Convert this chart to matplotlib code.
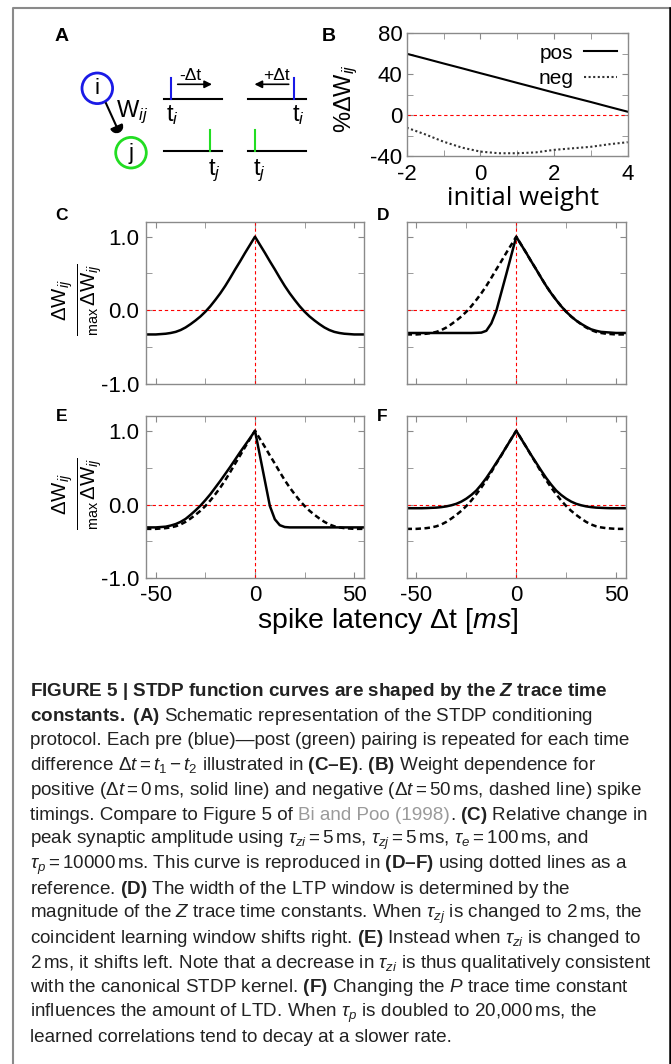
import numpy as np
import matplotlib
matplotlib.use('Agg')
import matplotlib.pyplot as plt
from matplotlib.patches import Circle, Wedge

W, H = 671, 1064
plt.rcParams['font.family'] = ['Liberation Sans', 'DejaVu Sans']
plt.rcParams['mathtext.fontset'] = 'custom'
plt.rcParams['mathtext.rm'] = 'Liberation Sans'
plt.rcParams['mathtext.it'] = 'Liberation Sans:italic'
plt.rcParams['mathtext.bf'] = 'Liberation Sans:bold'
plt.rcParams['mathtext.bfit'] = 'Liberation Sans:italic:bold'
plt.rcParams['axes.unicode_minus'] = False

# -------------------------------
# data
# -------------------------------
# panel B: weight dependence
weight = [-2, -1.5, -1, -0.5, 0, 0.5, 1, 1.5, 2, 2.5, 3, 3.5, 4]
dw_pos = [60, 55.3, 50.5, 45.8, 41, 36.3, 31.5, 26.8, 22, 17.4, 12.8, 8, 3.3]
dw_neg = [-12.3, -18.8, -26, -31.8, -35.7, -37.3, -37.3, -36.5, -34, -32.5, -31, -28.5, -26.5]

# panels C-F: normalised weight change vs spike latency (ms)
lag = np.arange(-55, 55.1, 2.5)
ref_curve = [-0.33, -0.33, -0.33, -0.325, -0.32, -0.31, -0.295, -0.27, -0.235, -0.19, -0.14, -0.085,
             -0.02, 0.055, 0.14, 0.23, 0.33, 0.44, 0.555, 0.665, 0.78, 0.89, 1.0,
             0.89, 0.78, 0.665, 0.555, 0.44, 0.33, 0.23, 0.14, 0.055, -0.02, -0.085,
             -0.14, -0.19, -0.235, -0.27, -0.295, -0.31, -0.32, -0.325, -0.33, -0.33, -0.33]
tzj_short = [-0.31, -0.31, -0.31, -0.31, -0.31, -0.31, -0.31, -0.31, -0.31, -0.31, -0.31, -0.31,
             -0.31, -0.31, -0.308, -0.305, -0.28, -0.18, -0.01, 0.24, 0.49, 0.745, 1.0,
             0.89, 0.78, 0.665, 0.555, 0.44, 0.33, 0.23, 0.14, 0.055, -0.02, -0.085,
             -0.14, -0.185, -0.225, -0.26, -0.28, -0.295, -0.30, -0.305, -0.31, -0.31, -0.31]
tzi_short = [-0.31, -0.31, -0.31, -0.305, -0.30, -0.285, -0.265, -0.235, -0.195, -0.14, -0.08, -0.015,
             0.06, 0.14, 0.23, 0.32, 0.415, 0.51, 0.61, 0.71, 0.805, 0.90, 1.0,
             0.66, 0.32, -0.02, -0.2, -0.28, -0.305, -0.31, -0.31, -0.31, -0.31, -0.31,
             -0.31, -0.31, -0.31, -0.31, -0.31, -0.31, -0.31, -0.31, -0.31, -0.31, -0.31]
tp_long = [-0.05, -0.05, -0.05, -0.05, -0.048, -0.045, -0.042, -0.035, -0.025, -0.01, 0.01, 0.04,
           0.08, 0.13, 0.19, 0.27, 0.36, 0.46, 0.565, 0.67, 0.78, 0.89, 1.0,
           0.89, 0.78, 0.67, 0.565, 0.46, 0.36, 0.27, 0.19, 0.13, 0.08, 0.04,
           0.01, -0.01, -0.025, -0.035, -0.042, -0.045, -0.048, -0.05, -0.05, -0.05, -0.05]

GRAY = '#8a8a8a'
BLUE = '#1a1ae6'
GREEN = '#22dd22'
TXT = '#222222'


def fy(y):
    return 1 - y / H


fig = plt.figure(figsize=(W / 100, H / 100), dpi=100)

# -------------------------------
# background layer: frame + schematic (A), in pixel units
# -------------------------------
ax0 = fig.add_axes([0, 0, 1, 1])
ax0.set_xlim(0, W)
ax0.set_ylim(H, 0)
ax0.set_axis_off()
ax0.plot([12.7, 12.7, 669.5], [H, 7.5, 7.5], color=GRAY, lw=1.5)
ax0.plot([669.5, 669.5], [7.5, H], color='black', lw=1.8)

ax0.add_patch(Circle((97.3, 88.3), 15.3, fill=False, ec=BLUE, lw=2))
ax0.add_patch(Circle((131, 152.7), 15.3, fill=False, ec=GREEN, lw=2))
ax0.text(97.3, 89, 'i', ha='center', va='center', fontsize=16)
ax0.text(131, 153.5, 'j', ha='center', va='center', fontsize=16)
ax0.plot([106, 116.5], [103.3, 126.5], color='black', lw=1.5)
ax0.add_patch(Wedge((116.5, 126.5), 6, -24, 156, color='black'))
ax0.text(116, 116.7, r'W$_{ij}$', ha='left', va='baseline', fontsize=17)

for x0, x1, y, tick, col in [(164.3, 221.7, 98.7, 171.3, BLUE), (247.7, 306, 98.7, 294, BLUE),
                             (164.3, 221.7, 151, 210, GREEN), (247.7, 306, 151, 254.7, GREEN)]:
    ax0.plot([x0, x1], [y, y], color='black', lw=1.5)
    ax0.plot([tick, tick], [y - 21, y], color=col, lw=1.5)
ax0.text(166, 121, r'$\mathrm{t}_i$', ha='left', va='baseline', fontsize=17)
ax0.text(292, 121, r'$\mathrm{t}_i$', ha='left', va='baseline', fontsize=17)
ax0.text(208, 175, r'$\mathrm{t}_j$', ha='left', va='baseline', fontsize=17)
ax0.text(253, 175, r'$\mathrm{t}_j$', ha='left', va='baseline', fontsize=17)
ax0.annotate('', xy=(212, 84.3), xytext=(177.7, 84.3),
             arrowprops=dict(arrowstyle='-|>', color='black', lw=1.2, mutation_scale=11, shrinkA=0, shrinkB=0))
ax0.annotate('', xy=(254.5, 84.3), xytext=(288.7, 84.3),
             arrowprops=dict(arrowstyle='-|>', color='black', lw=1.2, mutation_scale=11, shrinkA=0, shrinkB=0))
ax0.text(190, 80, '-Δt', ha='center', va='baseline', fontsize=12.5)
ax0.text(276, 80, '+Δt', ha='center', va='baseline', fontsize=12.5)

for lab, x, y, s in [('A', 61.7, 36.7, 14), ('B', 329, 36.7, 14), ('C', 62, 215, 12.5),
                     ('D', 383, 215, 12.5), ('E', 62, 416.7, 12.5), ('F', 382, 416.7, 12.5)]:
    ax0.text(x, y, lab, ha='center', va='center', fontsize=s, fontweight='bold')


def add_px_axes(l, t, r, b):
    return fig.add_axes([l / W, 1 - b / H, (r - l) / W, (b - t) / H])


def style_axes(ax):
    for sp in ax.spines.values():
        sp.set_color(GRAY)
        sp.set_linewidth(1)
    ax.tick_params(which='both', direction='in', top=True, right=True, color=GRAY,
                   labelsize=16, pad=5, length=4)


# -------------------------------
# panel B
# -------------------------------
axb = add_px_axes(406.7, 33.3, 627.7, 156)
axb.axhline(0, color='red', lw=0.8, ls=(0, (3, 2.5)))
axb.plot(weight, dw_pos, color='black', lw=1.5, label='pos')
axb.plot(weight, dw_neg, color='#333333', lw=1.5, ls=(0, (1, 1.2)), label='neg')
axb.set_xlim(-2, 4)
axb.set_ylim(-40, 80)
axb.set_xticks([-2, 0, 2, 4])
axb.set_xticks([-1, 1, 3], minor=True)
axb.set_yticks([-40, 0, 40, 80])
axb.set_yticks([-20, 20, 60], minor=True)
style_axes(axb)
axb.tick_params(axis='x', pad=6)
axb.tick_params(axis='y', pad=3)
axb.legend(loc='upper right', frameon=False, markerfirst=False, fontsize=15,
           handlelength=1.6, handletextpad=0.5, borderaxespad=0.1, labelspacing=0.3)
fig.text(523 / W, fy(205), 'initial weight', family='Open Sans', fontsize=18.5,
         ha='center', va='baseline')
fig.text(346 / W, fy(98), r'%Δ$\mathrm{W}_{ij}$', rotation=90, fontsize=17,
         ha='center', va='center')

# -------------------------------
# panels C-F
# -------------------------------
panels = [
    (145.9, 222, 364.1, 383.7, [ref_curve], True, False),
    (406.5, 222, 626.0, 383.7, [tzj_short, ref_curve], False, False),
    (145.9, 416, 364.1, 578.3, [tzi_short, ref_curve], True, True),
    (406.5, 416, 626.0, 578.3, [tp_long, ref_curve], False, True),
]
for l, t, r, b, curves, ylab, xlab in panels:
    ax = add_px_axes(l, t, r, b)
    ax.axhline(0, color='red', lw=0.8, ls=(0, (3, 2.5)))
    ax.axvline(0, color='red', lw=0.8, ls=(0, (3, 2.5)))
    if len(curves) > 1:
        ax.plot(lag, curves[1], color='black', lw=1.8, ls=(0, (2.2, 1.4)))
    ax.plot(lag, curves[0], color='black', lw=1.8)
    ax.set_xlim(-55, 55)
    ax.set_ylim(-1, 1.2)
    ax.set_xticks([-50, 0, 50])
    ax.set_xticks([-25, 25], minor=True)
    ax.set_yticks([-1, 0, 1])
    ax.set_yticks([-0.5, 0.5], minor=True)
    style_axes(ax)
    ax.set_yticklabels(['-1.0', '0.0', '1.0'] if ylab else [])
    ax.set_xticklabels(['-50', '0', '50'] if xlab else [])
    if ylab:
        fig.text(77 / W, fy((t + b) / 2 - 3),
                 r'$\frac{\Delta\mathrm{W}_{ij}}{{}_{\mathrm{max}}\,\Delta\mathrm{W}_{ij}}$',
                 rotation=90, fontsize=21, ha='center', va='center')

fig.text(388 / W, fy(628), r'spike latency Δt [$\mathit{ms}$]', fontsize=20.5,
         ha='center', va='baseline')

# -------------------------------
# caption
# -------------------------------
CAP_X, CAP_Y0, CAP_DY = 30, 696, 24.7
caption = [
    r'FIGURE 5 | STDP function curves are shaped by the $\mathbfit{Z}$ trace time',
    r'$\mathbf{constants.\ (A)}$ Schematic representation of the STDP conditioning',
    r'protocol. Each pre (blue)—post (green) pairing is repeated for each time',
    r'difference $\Delta t = t_1 - t_2$ illustrated in $\mathbf{(C–E)}$. $\mathbf{(B)}$ Weight dependence for',
    r'positive ($\Delta t = 0\,\mathrm{ms}$, solid line) and negative ($\Delta t = 50\,\mathrm{ms}$, dashed line) spike',
    None,
    r'peak synaptic amplitude using $\tau_{zi} = 5\,\mathrm{ms}$, $\tau_{zj} = 5\,\mathrm{ms}$, $\tau_e = 100\,\mathrm{ms}$, and',
    r'$\tau_p = 10000\,\mathrm{ms}$. This curve is reproduced in $\mathbf{(D–F)}$ using dotted lines as a',
    r'reference. $\mathbf{(D)}$ The width of the LTP window is determined by the',
    r'magnitude of the $Z$ trace time constants. When $\tau_{zj}$ is changed to 2$\,$ms, the',
    r'coincident learning window shifts right. $\mathbf{(E)}$ Instead when $\tau_{zi}$ is changed to',
    r'2$\,$ms, it shifts left. Note that a decrease in $\tau_{zi}$ is thus qualitatively consistent',
    r'with the canonical STDP kernel. $\mathbf{(F)}$ Changing the $P$ trace time constant',
    r'influences the amount of LTD. When $\tau_p$ is doubled to 20,000$\,$ms, the',
    'learned correlations tend to decay at a slower rate.',
]
line6 = [('timings. Compare to Figure 5 of', TXT, True), ('Bi and Poo (1998)', '#9a9a9a', False),
         (r'. $\mathbf{(C)}$ Relative change in', TXT, False)]

rend = fig.canvas.get_renderer()
probe = fig.text(0, 0, caption[4], fontsize=12)
cap_size = 12 * 612 / probe.get_window_extent(rend).width
probe.remove()
p1 = fig.text(0, 0, 'a a', fontsize=cap_size)
p2 = fig.text(0, 0, 'aa', fontsize=cap_size)
space = p1.get_window_extent(rend).width - p2.get_window_extent(rend).width
p1.remove()
p2.remove()

for k, line in enumerate(caption):
    y = fy(CAP_Y0 + k * CAP_DY)
    if line is None:
        x = CAP_X
        for s, col, gap in line6:
            t = fig.text(x / W, y, s, fontsize=cap_size, color=col, ha='left', va='baseline')
            x += t.get_window_extent(rend).width + (space if gap else 0)
        continue
    fig.text(CAP_X / W, y, line, fontsize=cap_size, color=TXT, ha='left', va='baseline',
             fontweight='bold' if k == 0 else 'normal')

fig.savefig('out.png', dpi=100)
